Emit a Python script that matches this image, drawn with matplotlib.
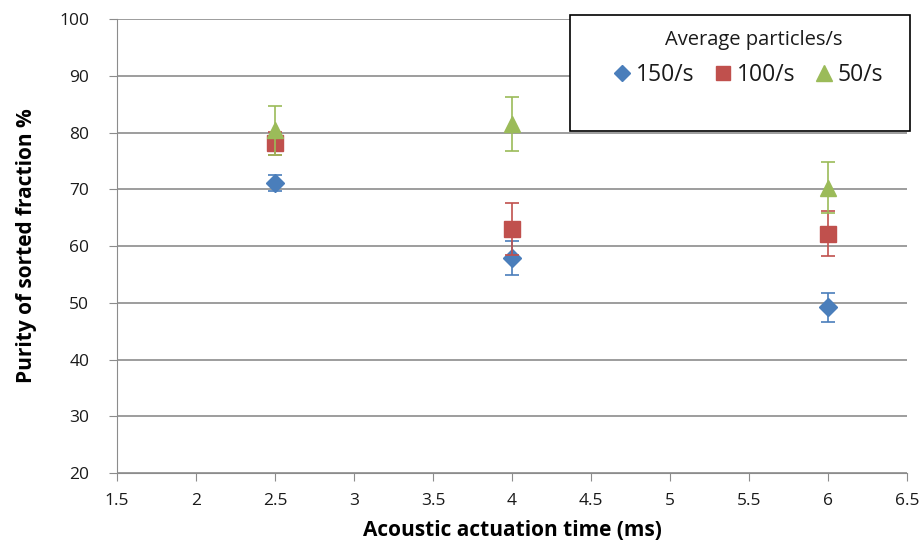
import matplotlib.pyplot as plt
from matplotlib.patches import Rectangle
from matplotlib.lines import Line2D

plt.rcParams['font.family'] = ['Open Sans', 'DejaVu Sans']

czas = [2.5, 4.0, 6.0]
p150 = [71.1, 57.9, 49.2]
e150 = [1.4, 3.0, 2.5]
p100 = [78.1, 63.0, 62.2]
e100 = [2.0, 4.5, 4.0]
p50 = [80.4, 81.5, 70.3]
e50 = [4.3, 4.8, 4.5]

niebieski = "#4a7ebb"
czerwony = "#c0504d"
zielony = "#9bbb59"

fig = plt.figure(figsize=(9.21, 5.42), dpi=100)
ax = fig.add_axes([0.127, 0.127, 0.858, 0.838])

ax.errorbar(czas, p150, yerr=e150, fmt="D", color=niebieski, markersize=9,
            elinewidth=1.2, capsize=5, capthick=1.2, zorder=3)
ax.errorbar(czas, p100, yerr=e100, fmt="s", color=czerwony, markersize=11,
            elinewidth=1.2, capsize=5, capthick=1.2, zorder=4)
ax.errorbar(czas, p50, yerr=e50, fmt="^", color=zielony, markersize=12,
            elinewidth=1.2, capsize=5, capthick=1.2, zorder=5)

ax.set_xlim(1.5, 6.5)
ax.set_ylim(20, 100)
ax.set_xticks([1.5, 2, 2.5, 3, 3.5, 4, 4.5, 5, 5.5, 6, 6.5])
ax.set_xticklabels(["1.5", "2", "2.5", "3", "3.5", "4", "4.5", "5", "5.5", "6", "6.5"])
ax.set_yticks(range(20, 101, 10))
ax.yaxis.grid(True, color="#8c8c8c", linewidth=1.2)
ax.set_axisbelow(True)
for s in ["top", "right"]:
    ax.spines[s].set_visible(False)
ax.spines["left"].set_color("#8c8c8c")
ax.spines["bottom"].set_color("#8c8c8c")
ax.tick_params(axis="both", labelsize=12.5, color="#8c8c8c", length=6,
               labelcolor="#1a1a1a")
ax.tick_params(axis="x", pad=8)
ax.tick_params(axis="y", pad=14)

ax.set_xlabel("Acoustic actuation time (ms)", fontsize=15, fontweight="bold", labelpad=8)
ax.set_ylabel("Purity of sorted fraction %", fontsize=15, fontweight="bold", labelpad=16)

# legend frame (larger than the legend content, as in the original)
ramka = Rectangle((570 / 921, 1 - 131 / 542), 340 / 921, 116 / 542,
                  transform=fig.transFigure, facecolor="white",
                  edgecolor="black", linewidth=1.2, zorder=9, clip_on=False)
ax.add_patch(ramka)
fig.text(754 / 921, 1 - 40 / 542, "Average particles/s", fontsize=14.5,
         ha="center", va="center", color="#1a1a1a", zorder=11)
uchwyty = [Line2D([], [], ls="none", marker="D", color=niebieski, markersize=8),
           Line2D([], [], ls="none", marker="s", color=czerwony, markersize=10),
           Line2D([], [], ls="none", marker="^", color=zielony, markersize=11)]
leg = ax.legend(uchwyty, ["150/s", "100/s", "50/s"], ncol=3, loc="center",
                bbox_to_anchor=(747 / 921, 1 - 75 / 542),
                bbox_transform=fig.transFigure,
                fontsize=16.5, frameon=False, labelcolor="#1a1a1a",
                handletextpad=0.1, columnspacing=0.75, handlelength=1.0)
leg.set_zorder(10)

fig.savefig("out.png", dpi=100)
